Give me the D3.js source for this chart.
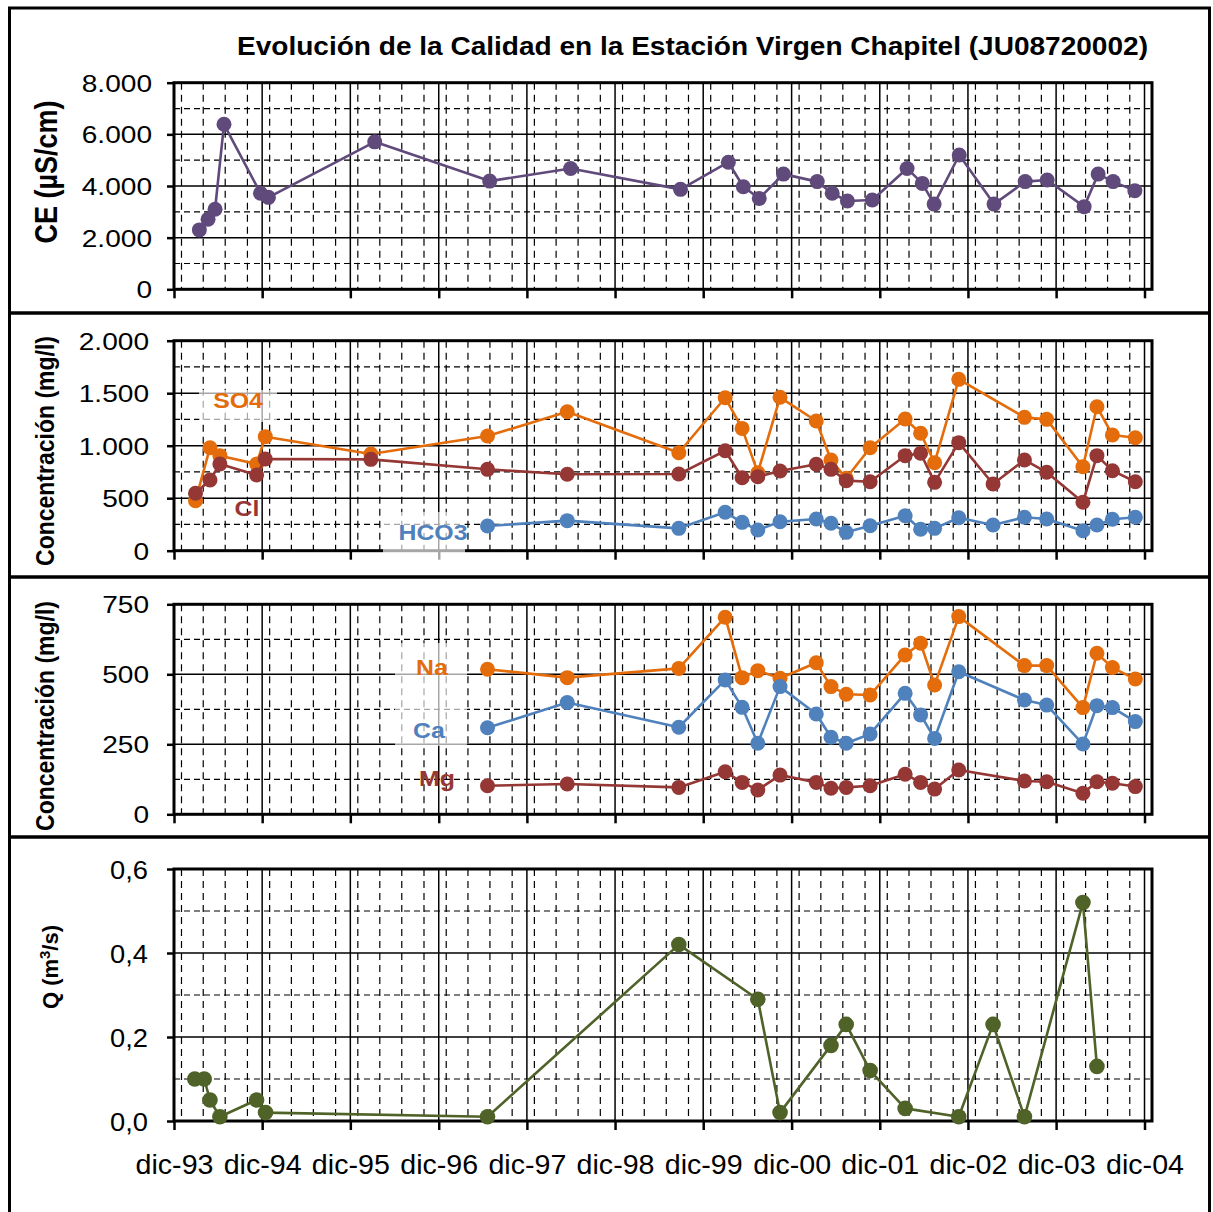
<!DOCTYPE html>
<html><head><meta charset="utf-8">
<script src="https://cdn.jsdelivr.net/npm/d3@7"></script>
<style>body{margin:0;background:#fff}</style>
</head><body>
<script>
// ---------------- DATA ----------------
const titleText = "Evolución de la Calidad en la Estación Virgen Chapitel (JU08720002)";
const xTickYears = [1993,1994,1995,1996,1997,1998,1999,2000,2001,2002,2003,2004];

// Panel 1: conductividad
const ceDates = ["1994-03-16","1994-04-21","1994-05-20","1994-06-26","1994-11-24","1994-12-27","1996-03-11","1997-06-30","1998-05-31","1999-08-29","2000-03-14","2000-05-15","2000-07-20","2000-10-28","2001-03-17","2001-05-18","2001-07-20","2001-10-31","2002-03-24","2002-05-26","2002-07-14","2002-10-26","2003-03-19","2003-07-26","2003-10-25","2004-03-26","2004-05-23","2004-07-24","2004-10-22"];
const ceValues = [2300,2710,3100,6390,3720,3560,5710,4190,4680,3870,4920,3970,3520,4460,4170,3720,3420,3460,4680,4100,3300,5200,3300,4170,4230,3200,4460,4170,3820];
const ceTicks = [0,2000,4000,6000,8000];

// Panel 2: aniones
const anionDates = ["1994-02-28","1994-04-29","1994-06-09","1994-11-08","1994-12-14","1996-02-24","1997-06-21","1998-05-17","1999-08-22","2000-03-01","2000-05-10","2000-07-14","2000-10-14","2001-03-13","2001-05-13","2001-07-15","2001-10-22","2002-03-16","2002-05-19","2002-07-16","2002-10-24","2003-03-15","2003-07-23","2003-10-23","2004-03-21","2004-05-18","2004-07-21","2004-10-24"];
const so4Values = [476,981,905,826,1086,921,1092,1324,933,1457,1165,743,1461,1235,864,690,981,1254,1118,838,1632,null,1270,1251,800,1371,1102,1076];
const clValues = [547,673,826,721,873,870,775,728,730,952,695,705,759,823,775,667,657,905,928,651,1029,635,864,747,461,905,762,657];
const hco3Values = [null,null,null,null,null,null,235,286,213,366,270,197,276,302,261,175,238,333,204,213,314,245,318,302,190,245,299,318];
const anionTicks = [0,500,1000,1500,2000];

// Panel 3: cationes
const cationDates = ["1997-06-21","1998-05-17","1999-08-22","2000-03-01","2000-05-10","2000-07-14","2000-10-14","2001-03-13","2001-05-13","2001-07-15","2001-10-22","2002-03-16","2002-05-19","2002-07-16","2002-10-24","2003-07-23","2003-10-23","2004-03-21","2004-05-18","2004-07-21","2004-10-24"];
const naValues = [518,488,521,704,488,513,486,541,456,429,426,569,611,462,706,531,531,381,575,524,483];
const caValues = [309,399,311,480,382,254,456,358,275,254,287,432,355,271,509,408,390,251,388,381,331];
const mgValues = [102,108,96,152,114,87,140,114,93,96,102,143,114,90,158,119,116,75,116,111,99];
const cationTicks = [0,250,500,750];

// Panel 4: caudal
const qDates = ["1994-02-25","1994-04-05","1994-04-29","1994-06-09","1994-11-08","1994-12-15","1997-06-21","1999-08-22","2000-07-14","2000-10-14","2001-05-13","2001-07-15","2001-10-22","2002-03-16","2002-10-24","2003-03-15","2003-07-23","2004-03-21","2004-05-18"];
const qValues = [0.10,0.10,0.05,0.01,0.05,0.02,0.01,0.42,0.29,0.02,0.18,0.23,0.12,0.03,0.01,0.23,0.01,0.52,0.13];
const qTicks = [0,0.2,0.4,0.6];

// ---------------- SETUP ----------------
const W = 1213, H = 1212;
const FONT = "'Liberation Sans', Arial, Helvetica, sans-serif";
const parse = d3.timeParse("%Y-%m-%d");
const numLoc = d3.formatLocale({decimal: ",", thousands: ".", grouping: [3], currency: ["", " €"]});
const timeLoc = d3.timeFormatLocale({
  dateTime: "%A, %e de %B de %Y, %X", date: "%d/%m/%Y", time: "%H:%M:%S",
  periods: ["AM","PM"],
  days: ["domingo","lunes","martes","miércoles","jueves","viernes","sábado"],
  shortDays: ["dom","lun","mar","mié","jue","vie","sáb"],
  months: ["enero","febrero","marzo","abril","mayo","junio","julio","agosto","septiembre","octubre","noviembre","diciembre"],
  shortMonths: ["ene","feb","mar","abr","may","jun","jul","ago","sep","oct","nov","dic"]
});
const fmtDate = timeLoc.format("%b-%y");

const svg = d3.select("body").append("svg").attr("width", W).attr("height", H)
  .style("font-family", FONT);
svg.append("rect").attr("width", W).attr("height", H).attr("fill", "#fff");

const x0 = 174, x1 = 1152;
const x = d3.scaleTime().domain([new Date(1993,11,1), new Date(2005,0,1)]).range([x0, x1]);
const majorX = xTickYears.map(y => new Date(y, 11, 1));
const minorX = d3.timeMonth.every(3).range(new Date(1993,11,1), new Date(2005,0,1))
  .filter(d => d.getMonth() !== 11);

// outer panel frames
const frames = [[8,313],[313,577],[577,837],[837,1240]];
frames.forEach(([t,b]) => {
  svg.append("rect").attr("x", 9.5).attr("y", t).attr("width", 1200).attr("height", b - t)
    .attr("fill", "none").attr("stroke", "#000").attr("stroke-width", 3);
});

// title
svg.append("text").attr("x", 237).attr("y", 55)
  .attr("font-size", 25).attr("font-weight", "bold")
  .attr("textLength", 911).attr("lengthAdjust", "spacingAndGlyphs")
  .text(titleText);

function panel(cfg) {
  const y = d3.scaleLinear().domain([0, cfg.max]).range([cfg.bottom, cfg.top]);
  const g = svg.append("g");
  const majors = cfg.ticks;
  const step = majors[1] - majors[0];
  const minors = majors.slice(0, -1).map(v => v + step / 2);

  // minor horizontal (dashed)
  g.selectAll(".hm").data(minors).join("line")
    .attr("x1", x0).attr("x2", x1).attr("y1", d => y(d)).attr("y2", d => y(d))
    .attr("stroke", "#000").attr("stroke-width", 1.2).attr("stroke-dasharray", "6,4");
  // minor vertical (dashed)
  g.selectAll(".vm").data(minorX).join("line")
    .attr("x1", d => x(d)).attr("x2", d => x(d)).attr("y1", cfg.top).attr("y2", cfg.bottom)
    .attr("stroke", "#000").attr("stroke-width", 1.2).attr("stroke-dasharray", "7,5");
  // major horizontal
  g.selectAll(".hM").data(majors.slice(1, -1)).join("line")
    .attr("x1", x0).attr("x2", x1).attr("y1", d => y(d)).attr("y2", d => y(d))
    .attr("stroke", "#000").attr("stroke-width", 1.5);
  // major vertical
  g.selectAll(".vM").data(majorX.slice(1)).join("line")
    .attr("x1", d => x(d)).attr("x2", d => x(d)).attr("y1", cfg.top).attr("y2", cfg.bottom)
    .attr("stroke", "#000").attr("stroke-width", 1.5);
  // plot frame
  g.append("rect").attr("x", x0).attr("y", cfg.top).attr("width", x1 - x0).attr("height", cfg.bottom - cfg.top)
    .attr("fill", "none").attr("stroke", "#000").attr("stroke-width", 3);

  // y axis
  const ya = g.append("g").attr("transform", `translate(${x0},0)`)
    .call(d3.axisLeft(y).tickValues(majors).tickSize(7).tickFormat(cfg.fmt));
  ya.select(".domain").remove();
  ya.selectAll(".tick line").attr("stroke-width", 2.5);
  ya.selectAll(".tick text")
    .attr("x", 0).attr("dy", "0.36em")
    .attr("transform", `translate(${-cfg.labGap},0) scale(${cfg.tsx},1)`)
    .attr("font-size", cfg.tfs).attr("font-family", FONT).attr("fill", "#000");

  // x axis
  const xa = g.append("g").attr("transform", `translate(0,${cfg.bottom})`)
    .call(d3.axisBottom(x).tickValues(majorX).tickSize(9).tickFormat(cfg.xLabels ? fmtDate : ""));
  xa.select(".domain").remove();
  xa.selectAll(".tick line").attr("stroke-width", 2.5);
  if (cfg.xLabels) {
    xa.selectAll(".tick text").attr("y", 0).attr("dy", 0)
      .attr("transform", `translate(0,53) scale(1.06,1)`)
      .attr("font-size", 27).attr("font-family", FONT).attr("fill", "#000");
  }

  // label boxes (semi-transparent text boxes)
  (cfg.boxes || []).forEach(b => {
    g.append("rect").attr("x", b[0]).attr("y", b[1]).attr("width", b[2] - b[0]).attr("height", b[3] - b[1])
      .attr("fill", "#fff").attr("fill-opacity", 0.65);
  });

  // y title
  const tt = g.append("text")
    .attr("transform", `translate(${cfg.titleX},${cfg.titleY}) scale(${cfg.titleSx},1) rotate(-90)`)
    .attr("text-anchor", "middle").attr("dy", "0.35em")
    .attr("font-size", cfg.titleFs).attr("font-weight", "bold");
  cfg.title.forEach(part => {
    const ts = tt.append("tspan").text(part.t);
    if (part.sup) ts.attr("font-size", cfg.titleFs * 0.68).attr("baseline-shift", "super");
  });

  // series
  cfg.series.forEach(s => {
    const pts = s.dates.map((d, i) => ({date: parse(d), v: s.values[i]})).filter(p => p.v != null);
    const line = d3.line().x(d => x(d.date)).y(d => y(d.v));
    g.append("path").datum(pts).attr("d", line)
      .attr("fill", "none").attr("stroke", s.color).attr("stroke-width", 2.6).attr("stroke-linejoin", "round");
    g.selectAll(null).data(pts).join("circle")
      .attr("cx", d => x(d.date)).attr("cy", d => y(d.v)).attr("r", cfg.r || 7.5)
      .attr("fill", s.color);
  });

  // series labels
  (cfg.labels || []).forEach(l => {
    g.append("text")
      .attr("transform", `translate(${l.x},${l.y}) scale(1.13,1)`)
      .attr("text-anchor", "middle").attr("font-size", 22).attr("font-weight", "bold")
      .attr("fill", l.color).text(l.text);
  });
}

const PURPLE = "#604a7b", ORANGE = "#e46c0a", BROWN = "#953735", BLUE = "#4f81bd", GREEN = "#4f6228";

panel({
  top: 82.7, bottom: 289.3, max: 8000, ticks: ceTicks, fmt: numLoc.format(",.0f"),
  tfs: 24, tsx: 1.17, labGap: 22,
  title: [{t: "CE (µS/cm)"}], titleX: 46, titleY: 172, titleSx: 1.18, titleFs: 27,
  series: [{dates: ceDates, values: ceValues, color: PURPLE}]
});

panel({
  top: 340.7, bottom: 550.7, max: 2000, ticks: anionTicks, fmt: numLoc.format(",.0f"),
  tfs: 24, tsx: 1.17, labGap: 25,
  title: [{t: "Concentración (mg/l)"}], titleX: 45, titleY: 451, titleSx: 1.12, titleFs: 23,
  boxes: [[199, 390, 277, 422], [383, 512, 465, 560]],
  series: [
    {dates: anionDates, values: so4Values, color: ORANGE},
    {dates: anionDates, values: clValues, color: BROWN},
    {dates: anionDates, values: hco3Values, color: BLUE}
  ],
  labels: [
    {text: "SO4", x: 238, y: 408, color: ORANGE},
    {text: "Cl", x: 247, y: 516, color: BROWN},
    {text: "HCO3", x: 433, y: 540, color: BLUE}
  ]
});

panel({
  top: 604.3, bottom: 814.3, max: 750, ticks: cationTicks, fmt: numLoc.format(",.0f"),
  tfs: 24, tsx: 1.17, labGap: 25,
  title: [{t: "Concentración (mg/l)"}], titleX: 45, titleY: 716, titleSx: 1.12, titleFs: 23,
  boxes: [[395, 643, 467, 746]],
  series: [
    {dates: cationDates, values: naValues, color: ORANGE},
    {dates: cationDates, values: caValues, color: BLUE},
    {dates: cationDates, values: mgValues, color: BROWN}
  ],
  labels: [
    {text: "Na", x: 432, y: 675, color: ORANGE},
    {text: "Ca", x: 429, y: 738, color: BLUE},
    {text: "Mg", x: 437, y: 786, color: BROWN}
  ]
});

panel({
  top: 869, bottom: 1121, max: 0.6, ticks: qTicks, fmt: numLoc.format(",.1f"),
  tfs: 26, tsx: 1.05, labGap: 26, r: 7.8,
  title: [{t: "Q (m"}, {t: "3", sup: true}, {t: "/s)"}], titleX: 50, titleY: 967, titleSx: 1.0, titleFs: 22,
  xLabels: true,
  series: [{dates: qDates, values: qValues, color: GREEN}]
});
</script>
</body></html>
